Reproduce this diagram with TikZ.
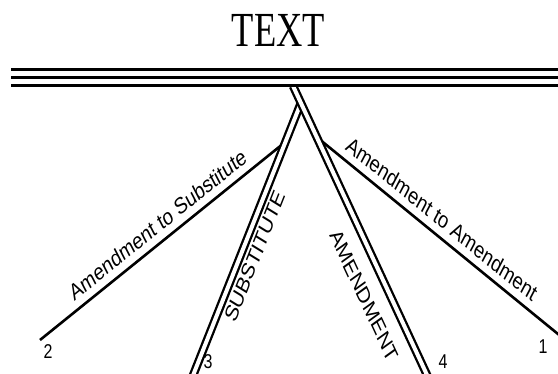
\documentclass[tikz,border=0pt]{standalone}
\usepackage{fontspec}
\setmainfont{Liberation Serif}
\newfontfamily\labfont{Liberation Sans}
\begin{document}
\begin{tikzpicture}[x=1pt,y=1pt,xscale=0.8,
  single/.style={line width=2.6pt},
  dbl/.style={double, line width=2.3pt, double distance=4pt},
  rail/.style={line width=3pt},
  lbl/.style={font=\labfont\fontsize{23}{27}\selectfont, inner sep=0pt, transform shape},
  num/.style={font=\labfont\fontsize{20}{24}\selectfont, inner sep=0pt, transform shape}]
\useasboundingbox (0,0) rectangle (697.5,373);
% rail
\coordinate (RaL) at (13.75,303); \coordinate (RaR) at (697.5,303);
\coordinate (RbL) at (13.75,295); \coordinate (RbR) at (697.5,295);
\coordinate (RcL) at (13.75,287); \coordinate (RcR) at (697.5,287);
% amendment
\coordinate (A1) at (366.3,287);
\coordinate (A2) at (534.9,-4);
% substitute
\coordinate (S1) at (376.1,270);
\coordinate (S2) at (240.5,-4);
% amendment to substitute
\coordinate (P2) at (50,33);
\coordinate (Q2) at (356.6,231);
% amendment to amendment
\coordinate (Q1) at (395.8,236);
\coordinate (P1) at (702.5,35.7);

\draw[single] (P2) -- (Q2);
\draw[single] (Q1) -- (P1);
\draw[dbl] (S2) -- (S1);
\draw[dbl] (A1) -- (A2);
\draw[rail] (RaL) -- (RaR);
\draw[rail] (RbL) -- (RbR);
\draw[rail] (RcL) -- (RcR);

\node[font=\fontsize{49}{54}\selectfont, inner sep=0pt, transform shape, xscale=0.93] (title) at (348.1,343) {TEXT};

\path (P2) -- (Q2) node[lbl, pos=0.51, rotate=32.85, anchor=base, yshift=9pt] (ats) {Amendment to Substitute};
\path (Q1) -- (P1) node[lbl, pos=0.48, rotate=-33.15, anchor=base, yshift=9pt] (ata) {Amendment to Amendment};
\path (S2) -- (S1) node[lbl, pos=0.467, rotate=63.7, anchor=north, yshift=-8pt] (sub) {SUBSTITUTE};
\path (A1) -- (A2) node[lbl, pos=0.672, rotate=-59.9, anchor=north, yshift=-20pt] (amd) {AMENDMENT};

\node[num] (n1) at (678.75,26) {1};
\node[num] (n2) at (60,21) {2};
\node[num] (n3) at (260,11) {3};
\node[num] (n4) at (553.75,11) {4};
\end{tikzpicture}
\end{document}
